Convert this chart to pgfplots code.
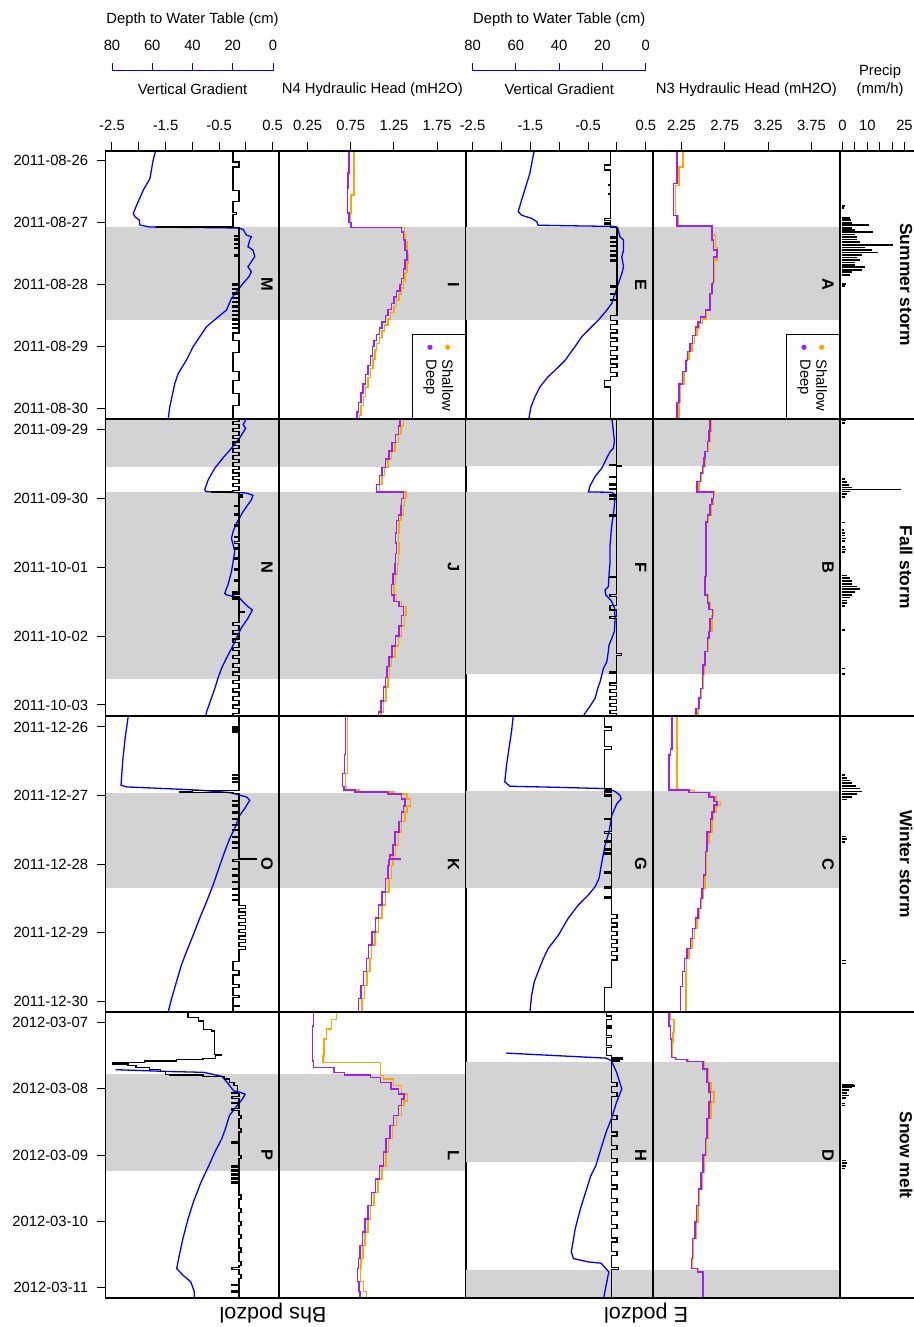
\documentclass[border=0pt]{standalone}
\usepackage{fontspec}
\setmainfont{Liberation Sans}
\usepackage{pgfplots}
\pgfplotsset{compat=1.18}
\definecolor{rpurple}{RGB}{160,32,240}
\definecolor{rorange}{RGB}{255,165,0}
\definecolor{rgray}{RGB}{211,211,211}
\newcommand\sz{\fontsize{7.4}{8.9}\selectfont}
\newcommand\band[2]{\addplot[fill=rgray, draw=none, forget plot] coordinates {(-100,#1) (100,#1) (100,#2) (-100,#2)} --cycle;}
\pgfplotsset{
  base/.style={scale only axis, anchor=north west, y dir=reverse, ymin=-0.16, ymax=4.16,
    axis on top, axis line style={line width=0.9pt}, xtick=\empty, ytick=\empty,
    major tick length=4.2pt, tick style={line width=0.5pt, black}, tick align=outside,
    font=\sz, clip=true},
  c1/.style={width=86.75pt, xmin=-2.62, xmax=0.62},
  c2/.style={width=93.25pt, xmin=-0.08, xmax=2.08},
  c3/.style={width=93.6pt, xmin=-2.62, xmax=0.62},
  c4/.style={width=93.65pt, xmin=1.92, xmax=4.08},
  c5/.style={width=40pt, xmin=-1, xmax=31.26},
  r1/.style={height=133.9pt}, r2/.style={height=148.7pt}, r3/.style={height=148pt}, r4/.style={height=143.15pt},
  toptick/.style={xtick pos=right, xticklabel pos=right, xticklabel style={font=\sz, yshift=2.5pt}},
  gradtick/.style={toptick, xtick={-2.5,-2,-1.5,-1,-0.5,0,0.5}, xticklabels={-2.5,,-1.5,,-0.5,,0.5}},
  datetick/.style={ytick={0,1,2,3,4}, ytick pos=left, yticklabel pos=left, yticklabel style={font=\sz, xshift=-1pt}},
  dep/.style={blue, line width=0.65pt},
  grd/.style={black, line width=0.6pt, const plot mark right},
  sha/.style={rorange, line width=0.75pt, const plot mark right},
  dee/.style={rpurple, line width=0.75pt, const plot mark right},
  pre/.style={black, xcomb, line width=0.85pt},
}
\begin{document}
\begin{tikzpicture}
%================ ROW 1 : Summer storm =================
\begin{axis}[base,c1,r1,at={(52.75pt,-75.4pt)},gradtick,datetick,
  yticklabels={2011-08-26,2011-08-27,2011-08-28,2011-08-29,2011-08-30}]
\band{1.074}{2.57}
\addplot[dep] table[row sep=\\, x expr={0.5-3*\thisrow{d}/80}, y=t] {t d\\
-0.16 58.3\\ -0.01 59.5\\ 0.285 61.1\\ 0.473 64.4\\ 0.715 67.7\\ 0.849 69.4\\ 0.903 68.6\\ 0.957 66.4\\ 1.038 66.1\\ 1.07 61.1\\ 1.078 36.3\\ 1.085 17.2\\ 1.108 14.7\\ 1.199 13.1\\ 1.226 10.6\\ 1.28 11.4\\ 1.387 12.3\\ 1.441 9.8\\ 1.548 8.9\\ 1.629 10.6\\ 1.71 12.3\\ 1.79 10.6\\ 1.871 11.8\\ 1.978 14.7\\ 2.113 18.0\\ 2.22 20.5\\ 2.409 23.0\\ 2.543 28.0\\ 2.677 32.9\\ 2.839 36.3\\ 3.0 39.6\\ 3.215 42.9\\ 3.43 47.0\\ 3.591 48.7\\ 3.968 51.2\\ 4.16 52.0\\};
\addplot[grd] table[row sep=\\, x=g, y=t] {t g\\
-0.16 -0.24\\ 0.02 -0.13\\ 0.10 -0.24\\ 0.48 -0.13\\ 0.66 -0.24\\ 0.84 -0.17\\ 0.87 -0.24\\ 1.068 -1.67\\ 1.078 -0.13\\ 1.20 -0.21\\ 1.22 -0.13\\ 1.26 -0.21\\ 1.28 -0.13\\ 1.33 -0.21\\ 1.35 -0.13\\ 1.40 -0.21\\ 1.42 -0.13\\ 1.52 -0.21\\ 1.54 -0.13\\ 1.99 -0.24\\ 2.01 -0.13\\ 2.06 -0.24\\ 2.08 -0.13\\ 2.13 -0.24\\ 2.15 -0.13\\ 2.20 -0.24\\ 2.22 -0.13\\ 2.27 -0.24\\ 2.29 -0.13\\ 2.34 -0.24\\ 2.36 -0.13\\ 2.41 -0.24\\ 2.43 -0.13\\ 2.48 -0.24\\ 2.50 -0.13\\ 2.55 -0.24\\ 2.57 -0.13\\ 2.62 -0.24\\ 2.64 -0.13\\ 2.69 -0.24\\ 2.71 -0.13\\ 2.78 -0.24\\ 2.90 -0.13\\ 3.10 -0.24\\ 3.40 -0.13\\ 3.55 -0.24\\ 3.75 -0.13\\ 3.95 -0.24\\ 4.16 -0.24\\};
\end{axis}
\begin{axis}[base,c2,r1,at={(139.5pt,-75.4pt)},toptick,xtick={0.25,0.75,1.25,1.75},xticklabels={0.25,0.75,1.25,1.75}]
\band{1.074}{2.57}
\addplot[sha] table[row sep=\\, x=h, y=t] {t h\\
-0.16 0.79\\ 0.55 0.75\\ 0.84 0.74\\ 1.00 0.76\\ 1.075 1.37\\ 1.20 1.38\\ 1.30 1.40\\ 1.50 1.41\\ 1.65 1.40\\ 1.80 1.38\\ 1.95 1.36\\ 2.05 1.34\\ 2.15 1.31\\ 2.25 1.28\\ 2.35 1.25\\ 2.45 1.21\\ 2.55 1.18\\ 2.65 1.14\\ 2.75 1.11\\ 2.85 1.08\\ 2.95 1.05\\ 3.05 1.03\\ 3.20 1.01\\ 3.35 0.98\\ 3.50 0.95\\ 3.65 0.92\\ 3.80 0.90\\ 3.95 0.87\\ 4.10 0.85\\ 4.16 0.85\\};
\addplot[dee] table[row sep=\\, x=h, y=t] {t h\\
-0.16 0.73\\ 0.20 0.72\\ 0.45 0.71\\ 0.84 0.73\\ 1.00 0.75\\ 1.075 1.34\\ 1.15 1.36\\ 1.28 1.38\\ 1.45 1.40\\ 1.60 1.38\\ 1.75 1.36\\ 1.90 1.34\\ 2.00 1.32\\ 2.10 1.28\\ 2.20 1.25\\ 2.30 1.22\\ 2.40 1.18\\ 2.50 1.15\\ 2.60 1.11\\ 2.70 1.08\\ 2.80 1.05\\ 2.90 1.02\\ 3.00 1.00\\ 3.15 0.98\\ 3.30 0.95\\ 3.45 0.92\\ 3.60 0.89\\ 3.75 0.87\\ 3.90 0.84\\ 4.05 0.82\\ 4.16 0.82\\};
\end{axis}
\begin{axis}[base,c3,r1,at={(232.75pt,-75.4pt)},gradtick]
\band{1.074}{2.57}
\addplot[dep] table[row sep=\\, x expr={0.5-3*\thisrow{d}/80}, y=t] {t d\\
-0.16 51.5\\ -0.01 52.4\\ 0.20 53.5\\ 0.37 55.0\\ 0.63 57.3\\ 0.82 58.9\\ 0.88 57.3\\ 0.93 52.7\\ 0.98 50.4\\ 1.04 49.7\\ 1.05 34.2\\ 1.06 14.2\\ 1.075 13.1\\ 1.23 11.9\\ 1.28 10.3\\ 1.44 10.3\\ 1.55 11.1\\ 1.71 10.3\\ 1.82 11.1\\ 1.98 12.7\\ 2.14 14.2\\ 2.30 15.7\\ 2.41 18.0\\ 2.57 21.9\\ 2.73 26.5\\ 2.84 29.6\\ 3.00 32.7\\ 3.22 37.3\\ 3.38 41.9\\ 3.48 45.0\\ 3.65 48.9\\ 3.81 51.2\\ 3.97 53.0\\ 4.16 54.0\\};
\addplot[grd] table[row sep=\\, x=g, y=t] {t g\\
-0.16 -0.11\\ 0.07 -0.21\\ 0.15 -0.11\\ 0.38 -0.15\\ 0.40 -0.11\\ 0.53 -0.15\\ 0.55 -0.11\\ 0.93 -0.21\\ 0.96 -0.11\\ 1.00 -0.21\\ 1.02 -0.11\\ 1.075 0.0\\ 1.23 -0.11\\ 1.25 0.0\\ 1.30 -0.11\\ 1.32 0.0\\ 1.37 -0.11\\ 1.39 0.0\\ 1.45 -0.11\\ 1.47 0.0\\ 1.52 -0.11\\ 1.54 0.0\\ 1.60 -0.11\\ 1.62 0.0\\ 2.02 -0.11\\ 2.04 0.0\\ 2.14 -0.11\\ 2.16 0.0\\ 2.24 -0.11\\ 2.26 0.0\\ 2.50 -0.11\\ 2.58 0.0\\ 2.64 -0.11\\ 2.72 0.0\\ 2.78 -0.11\\ 2.86 0.0\\ 2.92 -0.11\\ 3.00 0.0\\ 3.06 -0.11\\ 3.14 0.0\\ 3.20 -0.11\\ 3.28 0.0\\ 3.34 -0.11\\ 3.42 0.0\\ 3.48 -0.11\\ 3.55 -0.21\\ 3.65 -0.11\\ 4.16 -0.11\\};
\end{axis}
\begin{axis}[base,c4,r1,at={(326.35pt,-75.4pt)},toptick,xtick={2.25,2.75,3.25,3.75},xticklabels={2.25,2.75,3.25,3.75}]
\band{1.074}{2.57}
\addplot[sha] table[row sep=\\, x=h, y=t] {t h\\
-0.16 2.27\\ 0.10 2.22\\ 0.40 2.18\\ 0.88 2.21\\ 1.05 2.61\\ 1.20 2.64\\ 1.40 2.66\\ 1.60 2.63\\ 1.95 2.61\\ 2.15 2.58\\ 2.40 2.54\\ 2.55 2.49\\ 2.62 2.46\\ 2.70 2.43\\ 2.82 2.40\\ 2.95 2.37\\ 3.08 2.34\\ 3.20 2.31\\ 3.40 2.28\\ 3.60 2.24\\ 3.90 2.22\\ 4.16 2.21\\};
\addplot[dee] table[row sep=\\, x=h, y=t] {t h\\
-0.16 2.20\\ 0.37 2.16\\ 0.88 2.20\\ 1.05 2.60\\ 1.28 2.62\\ 1.44 2.66\\ 1.55 2.62\\ 1.98 2.60\\ 2.14 2.58\\ 2.41 2.53\\ 2.52 2.47\\ 2.60 2.44\\ 2.68 2.41\\ 2.82 2.38\\ 2.95 2.35\\ 3.08 2.32\\ 3.22 2.30\\ 3.40 2.26\\ 3.60 2.22\\ 3.90 2.20\\ 4.16 2.20\\};
\end{axis}
\begin{axis}[base,c5,r1,at={(420pt,-75.4pt)},toptick,xtick={0,5,10,15,20,25},xticklabels={0,,10,,,25}]
\addplot[pre] table[row sep=\\, x=p, y=t] {t p\\
0.73 1\\ 0.76 0.6\\ 0.92 3\\ 0.96 3.5\\ 1.00 4\\ 1.04 10.5\\ 1.08 4\\ 1.12 5\\ 1.15 12.5\\ 1.19 5\\ 1.23 6\\ 1.27 6\\ 1.31 7\\ 1.36 20.3\\ 1.40 9\\ 1.44 12\\ 1.48 14.5\\ 1.52 8\\ 1.56 6\\ 1.60 7\\ 1.64 5\\ 1.68 5\\ 1.72 9\\ 1.76 8\\ 1.80 4\\ 1.84 3\\ 1.99 1.5\\ 2.02 1\\};
\end{axis}
%================ ROW 2 : Fall storm =================
\begin{axis}[base,c1,r2,at={(52.75pt,-209.3pt)},datetick,
  yticklabels={2011-09-29,2011-09-30,2011-10-01,2011-10-02,2011-10-03}]
\band{-0.2}{0.55}\band{0.907}{3.62}
\addplot[dep] table[row sep=\\, x expr={0.5-3*\thisrow{d}/80}, y=t] {t d\\
-0.16 13.1\\ -0.07 14.7\\ -0.02 13.4\\ 0.12 16.4\\ 0.27 20.5\\ 0.41 24.7\\ 0.56 28.8\\ 0.73 32.1\\ 0.87 33.8\\ 0.90 33.3\\ 0.92 13.1\\ 0.955 9.8\\ 1.02 10.6\\ 1.19 14.7\\ 1.36 18.0\\ 1.48 19.7\\ 1.58 20.5\\ 1.67 19.7\\ 1.77 18.9\\ 1.92 19.7\\ 2.06 20.5\\ 2.25 22.2\\ 2.38 23.9\\ 2.40 23.0\\ 2.45 16.4\\ 2.55 13.1\\ 2.62 10.1\\ 2.74 12.3\\ 2.88 15.6\\ 3.03 18.0\\ 3.18 20.5\\ 3.32 23.0\\ 3.47 25.5\\ 3.61 27.2\\ 3.76 28.8\\ 3.90 30.5\\ 4.10 32.9\\ 4.16 33.3\\};
\addplot[grd] table[row sep=\\, x=g, y=t] {t g\\
-0.16 -0.13\\ -0.12 -0.24\\ -0.07 -0.13\\ -0.02 -0.24\\ 0.03 -0.13\\ 0.08 -0.24\\ 0.13 -0.13\\ 0.18 -0.24\\ 0.23 -0.13\\ 0.28 -0.24\\ 0.33 -0.13\\ 0.38 -0.24\\ 0.43 -0.13\\ 0.48 -0.24\\ 0.53 -0.13\\ 0.58 -0.24\\ 0.63 -0.13\\ 0.68 -0.24\\ 0.73 -0.13\\ 0.78 -0.24\\ 0.83 -0.13\\ 0.88 -0.24\\ 0.903 -0.64\\ 0.912 -0.13\\ 0.95 -0.06\\ 0.98 -0.13\\ 1.10 -0.21\\ 1.12 -0.13\\ 1.22 -0.21\\ 1.24 -0.13\\ 1.38 -0.21\\ 1.40 -0.13\\ 1.55 -0.21\\ 1.57 -0.13\\ 1.63 -0.21\\ 1.65 -0.13\\ 1.72 -0.21\\ 1.74 -0.13\\ 1.86 -0.21\\ 1.88 -0.13\\ 2.02 -0.21\\ 2.04 -0.13\\ 2.18 -0.21\\ 2.20 -0.13\\ 2.36 -0.24\\ 2.38 -0.13\\ 2.40 -0.24\\ 2.42 -0.13\\ 2.44 -0.24\\ 2.46 -0.13\\ 2.64 -0.02\\ 2.66 -0.13\\ 2.80 -0.24\\ 2.85 -0.13\\ 2.92 -0.24\\ 2.97 -0.13\\ 3.04 -0.24\\ 3.09 -0.13\\ 3.16 -0.24\\ 3.21 -0.13\\ 3.28 -0.24\\ 3.33 -0.13\\ 3.40 -0.24\\ 3.45 -0.13\\ 3.52 -0.24\\ 3.57 -0.13\\ 3.64 -0.24\\ 3.69 -0.13\\ 3.76 -0.24\\ 3.81 -0.13\\ 3.88 -0.24\\ 3.93 -0.13\\ 4.00 -0.24\\ 4.05 -0.13\\ 4.12 -0.24\\ 4.16 -0.24\\};
\end{axis}
\begin{axis}[base,c2,r2,at={(139.5pt,-209.3pt)}]
\band{-0.2}{0.55}\band{0.907}{3.62}
\addplot[sha] table[row sep=\\, x=h, y=t] {t h\\
-0.16 1.36\\ -0.05 1.33\\ 0.07 1.30\\ 0.19 1.26\\ 0.31 1.22\\ 0.43 1.18\\ 0.55 1.14\\ 0.67 1.11\\ 0.80 1.08\\ 0.907 1.39\\ 1.00 1.37\\ 1.10 1.36\\ 1.24 1.33\\ 1.32 1.31\\ 1.50 1.30\\ 1.65 1.31\\ 1.80 1.30\\ 1.95 1.29\\ 2.10 1.27\\ 2.25 1.25\\ 2.40 1.28\\ 2.50 1.34\\ 2.57 1.39\\ 2.70 1.37\\ 2.85 1.34\\ 3.00 1.30\\ 3.14 1.26\\ 3.30 1.22\\ 3.44 1.20\\ 3.60 1.18\\ 3.74 1.16\\ 3.94 1.13\\ 4.10 1.10\\ 4.16 1.10\\};
\addplot[dee] table[row sep=\\, x=h, y=t] {t h\\
-0.16 1.32\\ -0.05 1.30\\ 0.07 1.27\\ 0.19 1.23\\ 0.31 1.19\\ 0.43 1.15\\ 0.55 1.11\\ 0.67 1.08\\ 0.80 1.05\\ 0.907 1.36\\ 1.00 1.34\\ 1.10 1.33\\ 1.24 1.30\\ 1.32 1.28\\ 1.50 1.27\\ 1.65 1.28\\ 1.80 1.27\\ 1.95 1.26\\ 2.10 1.24\\ 2.25 1.22\\ 2.40 1.25\\ 2.50 1.31\\ 2.57 1.36\\ 2.70 1.34\\ 2.85 1.31\\ 3.00 1.27\\ 3.14 1.23\\ 3.30 1.19\\ 3.44 1.17\\ 3.60 1.15\\ 3.74 1.13\\ 3.94 1.10\\ 4.10 1.07\\ 4.16 1.07\\};
\end{axis}
\begin{axis}[base,c3,r2,at={(232.75pt,-209.3pt)}]
\band{-0.2}{0.53}\band{0.907}{3.55}
\addplot[dep] table[row sep=\\, x expr={0.5-3*\thisrow{d}/80}, y=t] {t d\\
-0.16 15.7\\ 0.02 15.0\\ 0.17 14.5\\ 0.27 15.0\\ 0.32 16.5\\ 0.41 18.0\\ 0.56 20.3\\ 0.68 23.4\\ 0.82 25.8\\ 0.905 26.5\\ 0.91 15.7\\ 0.945 14.2\\ 1.09 14.5\\ 1.24 15.0\\ 1.38 15.7\\ 1.48 16.0\\ 1.67 16.5\\ 1.92 16.5\\ 2.11 17.0\\ 2.28 17.3\\ 2.33 18.8\\ 2.40 18.5\\ 2.45 17.0\\ 2.50 15.7\\ 2.59 14.5\\ 2.74 14.2\\ 2.93 14.5\\ 3.03 15.7\\ 3.13 17.0\\ 3.22 17.3\\ 3.37 18.0\\ 3.47 19.6\\ 3.56 20.3\\ 3.66 21.1\\ 3.76 22.2\\ 3.90 23.4\\ 4.02 25.8\\ 4.12 28.1\\ 4.16 28.8\\};
\addplot[grd] table[row sep=\\, x=g, y=t] {t g\\
-0.16 -0.01\\ 0.51 -0.12\\ 0.525 0.08\\ 0.54 -0.01\\ 0.68 -0.12\\ 0.70 -0.01\\ 0.79 -0.12\\ 0.81 -0.01\\ 0.85 -0.12\\ 0.87 -0.01\\ 0.95 -0.12\\ 0.97 -0.01\\ 1.00 -0.12\\ 1.02 -0.01\\ 1.24 -0.12\\ 1.26 -0.01\\ 2.13 -0.12\\ 2.15 -0.01\\ 2.40 -0.12\\ 2.42 -0.01\\ 2.55 -0.12\\ 2.62 -0.01\\ 2.72 -0.12\\ 2.74 -0.01\\ 3.25 0.08\\ 3.28 -0.01\\ 3.52 -0.12\\ 3.54 -0.01\\ 3.68 -0.12\\ 3.72 -0.01\\ 3.78 -0.12\\ 3.82 -0.01\\ 3.88 -0.12\\ 3.92 -0.01\\ 3.98 -0.12\\ 4.02 -0.01\\ 4.08 -0.12\\ 4.12 -0.01\\ 4.16 -0.01\\};
\end{axis}
\begin{axis}[base,c4,r2,at={(326.35pt,-209.3pt)}]
\band{-0.2}{0.53}\band{0.907}{3.55}
\addplot[sha] table[row sep=\\, x=h, y=t] {t h\\
-0.16 2.59\\ 0.02 2.58\\ 0.17 2.56\\ 0.32 2.52\\ 0.41 2.52\\ 0.53 2.50\\ 0.63 2.48\\ 0.75 2.45\\ 0.907 2.63\\ 0.95 2.62\\ 1.09 2.59\\ 1.24 2.56\\ 1.34 2.54\\ 2.13 2.53\\ 2.40 2.56\\ 2.52 2.58\\ 2.61 2.62\\ 2.70 2.60\\ 2.93 2.57\\ 3.03 2.56\\ 3.22 2.53\\ 3.42 2.51\\ 3.56 2.50\\ 3.76 2.48\\ 3.90 2.46\\ 4.05 2.44\\ 4.16 2.42\\};
\addplot[dee] table[row sep=\\, x=h, y=t] {t h\\
-0.16 2.58\\ 0.02 2.57\\ 0.17 2.55\\ 0.32 2.52\\ 0.41 2.51\\ 0.53 2.49\\ 0.63 2.47\\ 0.75 2.43\\ 0.907 2.62\\ 1.00 2.60\\ 1.09 2.58\\ 1.24 2.55\\ 1.34 2.535\\ 2.13 2.52\\ 2.40 2.55\\ 2.52 2.57\\ 2.61 2.61\\ 2.74 2.58\\ 2.93 2.565\\ 3.03 2.55\\ 3.22 2.52\\ 3.42 2.50\\ 3.56 2.49\\ 3.76 2.47\\ 3.90 2.45\\ 4.05 2.42\\ 4.16 2.40\\};
\end{axis}
\begin{axis}[base,c5,r2,at={(420pt,-209.3pt)}]
\addplot[pre] table[row sep=\\, x=p, y=t] {t p\\
-0.14 1.5\\ -0.10 1\\ 0.72 1\\ 0.76 2\\ 0.80 2.5\\ 0.84 4\\ 0.87 23.5\\ 0.90 3\\ 0.94 2\\ 0.98 1\\ 1.35 1\\ 1.46 0.8\\ 1.50 1\\ 1.54 1\\ 1.58 1.5\\ 1.62 1\\ 1.70 1\\ 1.74 1.5\\ 1.78 1\\ 2.12 2\\ 2.16 3\\ 2.20 4\\ 2.24 4\\ 2.28 6\\ 2.32 7\\ 2.36 5\\ 2.40 4\\ 2.44 3\\ 2.48 2\\ 2.52 2\\ 2.56 1\\ 2.91 1\\ 3.47 1\\ 3.55 1\\};
\end{axis}
%================ ROW 3 : Winter storm =================
\begin{axis}[base,c1,r3,at={(52.75pt,-358pt)},datetick,
  yticklabels={2011-12-26,2011-12-27,2011-12-28,2011-12-29,2011-12-30}]
\band{0.957}{2.357}
\addplot[dep] table[row sep=\\, x expr={0.5-3*\thisrow{d}/80}, y=t] {t d\\
-0.16 71.9\\ 0.17 73.5\\ 0.51 74.7\\ 0.85 75.5\\ 0.875 72.7\\ 0.90 52.8\\ 0.923 36.3\\ 0.957 21.4\\ 1.02 13.1\\ 1.07 11.4\\ 1.19 13.9\\ 1.29 16.4\\ 1.48 18.9\\ 1.63 21.4\\ 1.82 23.9\\ 2.02 26.3\\ 2.31 29.7\\ 2.55 32.9\\ 2.79 36.3\\ 3.04 39.6\\ 3.28 42.9\\ 3.47 45.4\\ 3.72 47.9\\ 3.96 50.3\\ 4.16 52.0\\};
\addplot[grd] table[row sep=\\, x=g, y=t] {t g\\
-0.16 -0.13\\ 0.00 -0.24\\ 0.03 -0.13\\ 0.06 -0.24\\ 0.08 -0.13\\ 0.69 -0.24\\ 0.71 -0.13\\ 0.74 -0.24\\ 0.76 -0.13\\ 0.79 -0.24\\ 0.81 -0.13\\ 0.93 -1.0\\ 0.945 -1.23\\ 0.96 -0.24\\ 0.975 -0.13\\ 1.07 -0.24\\ 1.085 -0.13\\ 1.14 -0.24\\ 1.155 -0.13\\ 1.24 -0.24\\ 1.255 -0.13\\ 1.34 -0.24\\ 1.355 -0.13\\ 1.42 -0.24\\ 1.435 -0.13\\ 1.50 -0.24\\ 1.515 -0.13\\ 1.60 -0.24\\ 1.615 -0.13\\ 1.68 -0.24\\ 1.695 -0.13\\ 1.76 -0.24\\ 1.775 -0.13\\ 1.92 0.2\\ 1.93 -0.24\\ 1.96 -0.13\\ 2.07 -0.24\\ 2.085 -0.13\\ 2.16 -0.24\\ 2.175 -0.13\\ 2.26 -0.24\\ 2.275 -0.13\\ 2.36 -0.24\\ 2.375 -0.13\\ 2.44 -0.24\\ 2.455 -0.13\\ 2.52 -0.24\\ 2.535 -0.13\\ 2.60 0.0\\ 2.65 -0.13\\ 2.70 0.0\\ 2.75 -0.13\\ 2.80 0.0\\ 2.85 -0.13\\ 2.90 0.0\\ 2.95 -0.13\\ 3.00 0.0\\ 3.05 -0.13\\ 3.10 0.0\\ 3.15 -0.13\\ 3.20 0.0\\ 3.25 -0.13\\ 3.42 -0.24\\ 3.55 -0.13\\ 3.62 -0.24\\ 3.76 -0.13\\ 3.80 -0.24\\ 3.92 -0.13\\ 3.95 -0.24\\ 4.06 -0.13\\ 4.08 -0.24\\ 4.16 -0.24\\};
\end{axis}
\begin{axis}[base,c2,r3,at={(139.5pt,-358pt)}]
\band{0.957}{2.357}
\addplot[sha] table[row sep=\\, x=h, y=t] {t h\\
-0.16 0.71\\ 0.68 0.69\\ 0.87 0.70\\ 0.92 0.85\\ 0.95 1.25\\ 0.98 1.40\\ 1.05 1.44\\ 1.15 1.40\\ 1.24 1.38\\ 1.38 1.34\\ 1.53 1.30\\ 1.72 1.27\\ 1.87 1.24\\ 2.02 1.22\\ 2.21 1.19\\ 2.41 1.15\\ 2.60 1.11\\ 2.79 1.07\\ 2.99 1.03\\ 3.18 0.99\\ 3.38 0.97\\ 3.57 0.94\\ 3.77 0.91\\ 3.96 0.88\\ 4.16 0.86\\};
\addplot[dee] table[row sep=\\, x=h, y=t] {t h\\
-0.16 0.69\\ 0.40 0.68\\ 0.68 0.656\\ 0.87 0.67\\ 0.92 0.80\\ 0.95 1.18\\ 0.98 1.34\\ 1.05 1.38\\ 1.15 1.36\\ 1.24 1.34\\ 1.38 1.31\\ 1.53 1.265\\ 1.72 1.24\\ 1.87 1.207\\ 1.93 1.32\\ 1.935 1.19\\ 2.02 1.18\\ 2.21 1.15\\ 2.41 1.11\\ 2.60 1.073\\ 2.79 1.034\\ 2.99 0.996\\ 3.18 0.957\\ 3.38 0.93\\ 3.57 0.90\\ 3.77 0.869\\ 3.96 0.842\\ 4.16 0.823\\};
\end{axis}
\begin{axis}[base,c3,r3,at={(232.75pt,-358pt)}]
\band{0.94}{2.357}
\addplot[dep] table[row sep=\\, x expr={0.5-3*\thisrow{d}/80}, y=t] {t d\\
-0.16 61.2\\ 0.07 62.0\\ 0.32 63.2\\ 0.56 64.3\\ 0.80 65.1\\ 0.865 62.8\\ 0.88 41.9\\ 0.90 18.0\\ 0.94 14.2\\ 1.00 11.9\\ 1.05 11.4\\ 1.12 13.4\\ 1.29 15.7\\ 1.53 17.0\\ 1.72 18.8\\ 1.97 20.3\\ 2.21 21.6\\ 2.33 23.4\\ 2.45 26.5\\ 2.60 31.2\\ 2.79 35.8\\ 3.04 40.4\\ 3.23 45.0\\ 3.38 47.3\\ 3.57 49.7\\ 3.72 51.5\\ 3.91 52.7\\ 4.16 53.5\\};
\addplot[grd] table[row sep=\\, x=g, y=t] {t g\\
-0.16 -0.21\\ 0.00 -0.10\\ 0.05 -0.21\\ 0.29 -0.10\\ 0.33 -0.21\\ 0.90 -0.10\\ 0.92 -0.21\\ 0.94 -0.10\\ 0.96 -0.21\\ 0.98 -0.10\\ 1.00 -0.21\\ 1.02 -0.10\\ 1.33 -0.21\\ 1.35 -0.10\\ 1.53 -0.21\\ 1.55 -0.10\\ 1.66 -0.21\\ 1.68 -0.10\\ 1.78 -0.21\\ 1.80 -0.10\\ 1.84 -0.21\\ 1.86 -0.10\\ 2.11 -0.21\\ 2.13 -0.10\\ 2.33 -0.21\\ 2.35 -0.10\\ 2.48 -0.21\\ 2.50 -0.10\\ 2.74 0.0\\ 2.80 -0.10\\ 2.86 0.0\\ 2.92 -0.10\\ 2.98 0.0\\ 3.04 -0.10\\ 3.10 0.0\\ 3.16 -0.10\\ 3.22 0.0\\ 3.28 -0.10\\ 3.34 0.0\\ 3.40 -0.10\\ 3.80 -0.21\\ 4.16 -0.21\\};
\end{axis}
\begin{axis}[base,c4,r3,at={(326.35pt,-358pt)}]
\band{0.94}{2.357}
\addplot[sha] table[row sep=\\, x=h, y=t] {t h\\
-0.16 2.20\\ 0.90 2.21\\ 0.93 2.40\\ 0.957 2.58\\ 1.02 2.65\\ 1.09 2.70\\ 1.14 2.65\\ 1.24 2.62\\ 1.34 2.60\\ 1.53 2.57\\ 1.70 2.55\\ 1.82 2.54\\ 2.16 2.52\\ 2.36 2.50\\ 2.50 2.48\\ 2.65 2.46\\ 2.79 2.43\\ 2.94 2.40\\ 3.09 2.37\\ 3.23 2.34\\ 3.38 2.31\\ 3.57 2.30\\ 3.79 2.30\\ 4.16 2.296\\};
\addplot[dee] table[row sep=\\, x=h, y=t] {t h\\
-0.16 2.142\\ 0.32 2.123\\ 0.41 2.104\\ 0.92 2.335\\ 0.957 2.565\\ 1.02 2.623\\ 1.09 2.662\\ 1.14 2.623\\ 1.24 2.604\\ 1.34 2.584\\ 1.53 2.546\\ 1.82 2.527\\ 2.16 2.507\\ 2.36 2.489\\ 2.50 2.469\\ 2.65 2.443\\ 2.79 2.411\\ 2.94 2.38\\ 3.09 2.354\\ 3.23 2.316\\ 3.38 2.288\\ 3.57 2.265\\ 3.79 2.238\\ 4.16 2.227\\};
\end{axis}
\begin{axis}[base,c5,r3,at={(420pt,-358pt)}]
\addplot[pre] table[row sep=\\, x=p, y=t] {t p\\
0.70 1\\ 0.74 2\\ 0.78 3\\ 0.82 4\\ 0.86 5.5\\ 0.90 7\\ 0.94 8\\ 0.98 6\\ 1.02 4\\ 1.06 2\\ 1.60 1.5\\ 1.64 2\\ 1.68 1\\ 3.41 1.5\\ 3.45 1.5\\};
\end{axis}
%================ ROW 4 : Snow melt =================
\begin{axis}[base,c1,r4,at={(52.75pt,-506pt)},datetick,
  yticklabels={2012-03-07,2012-03-08,2012-03-09,2012-03-10,2012-03-11}]
\band{0.777}{2.24}
\addplot[dep] table[row sep=\\, x expr={0.5-3*\thisrow{d}/80}, y=t] {t d\\
0.71 78.2\\ 0.737 52.4\\ 0.75 34.4\\ 0.81 25.3\\ 0.90 22.7\\ 1.03 19.4\\ 1.05 16.3\\ 1.08 13.7\\ 1.15 15.0\\ 1.25 17.6\\ 1.40 21.5\\ 1.60 23.5\\ 1.75 25.3\\ 1.95 28.7\\ 2.16 31.8\\ 2.41 35.7\\ 2.71 39.5\\ 2.96 42.1\\ 3.26 44.7\\ 3.56 46.8\\ 3.71 47.8\\ 3.81 44.7\\ 3.91 40.8\\ 4.06 39.0\\ 4.16 39.0\\};
\addplot[grd] table[row sep=\\, x=g, y=t] {t g\\
-0.16 -1.08\\ -0.075 -0.88\\ -0.025 -0.79\\ 0.10 -0.64\\ 0.125 -0.58\\ 0.476 -0.45\\ 0.50 -0.56\\ 0.54 -0.80\\ 0.56 -1.30\\ 0.58 -1.90\\ 0.60 -2.40\\ 0.61 -2.48\\ 0.625 -2.20\\ 0.65 -2.05\\ 0.68 -1.80\\ 0.71 -1.60\\ 0.74 -1.50\\ 0.777 -1.42\\ 0.79 -0.80\\ 0.81 -0.40\\ 0.85 -0.31\\ 0.90 -0.22\\ 0.95 -0.16\\ 1.05 -0.26\\ 1.07 -0.13\\ 1.12 -0.26\\ 1.14 -0.13\\ 1.20 -0.26\\ 1.22 -0.13\\ 1.30 -0.26\\ 1.32 -0.13\\ 1.40 -0.09\\ 1.45 -0.13\\ 1.60 -0.09\\ 1.65 -0.13\\ 1.80 -0.26\\ 1.82 -0.13\\ 2.00 -0.09\\ 2.05 -0.13\\ 2.16 -0.26\\ 2.18 -0.13\\ 2.22 -0.26\\ 2.24 -0.13\\ 2.28 -0.26\\ 2.30 -0.13\\ 2.34 -0.26\\ 2.36 -0.13\\ 2.40 -0.26\\ 2.42 -0.13\\ 2.60 -0.09\\ 2.66 -0.13\\ 2.80 -0.09\\ 2.86 -0.13\\ 3.00 -0.09\\ 3.06 -0.13\\ 3.20 -0.09\\ 3.26 -0.13\\ 3.40 -0.09\\ 3.46 -0.13\\ 3.60 -0.09\\ 3.66 -0.13\\ 3.70 -0.26\\ 3.73 -0.13\\ 3.80 -0.09\\ 3.86 -0.13\\ 3.95 -0.26\\ 3.97 -0.13\\ 4.05 -0.26\\ 4.07 -0.13\\ 4.16 -0.13\\};
\end{axis}
\begin{axis}[base,c2,r4,at={(139.5pt,-506pt)}]
\band{0.777}{2.24}
\addplot[sha] table[row sep=\\, x=h, y=t] {t h\\
-0.16 0.587\\ -0.05 0.527\\ 0.10 0.468\\ 0.25 0.438\\ 0.50 0.43\\ 0.60 1.097\\ 0.80 1.127\\ 0.85 1.247\\ 0.95 1.335\\ 1.08 1.408\\ 1.18 1.365\\ 1.25 1.335\\ 1.40 1.277\\ 1.55 1.234\\ 1.75 1.187\\ 1.95 1.157\\ 2.16 1.114\\ 2.36 1.067\\ 2.56 1.018\\ 2.76 0.977\\ 2.96 0.947\\ 3.16 0.917\\ 3.36 0.89\\ 3.56 0.87\\ 3.71 0.86\\ 3.91 0.90\\ 4.06 0.93\\ 4.16 0.947\\};
\addplot[dee] table[row sep=\\, x=h, y=t] {t h\\
-0.16 0.318\\ 0.05 0.305\\ 0.576 0.32\\ 0.677 0.557\\ 0.75 0.677\\ 0.79 0.977\\ 0.827 1.097\\ 0.90 1.217\\ 1.0 1.305\\ 1.08 1.365\\ 1.15 1.335\\ 1.25 1.305\\ 1.40 1.247\\ 1.55 1.204\\ 1.75 1.157\\ 1.95 1.127\\ 2.16 1.084\\ 2.36 1.037\\ 2.56 0.988\\ 2.76 0.947\\ 2.96 0.917\\ 3.16 0.887\\ 3.36 0.857\\ 3.56 0.838\\ 3.71 0.827\\ 3.91 0.845\\ 4.06 0.857\\ 4.16 0.86\\};
\end{axis}
\begin{axis}[base,c3,r4,at={(232.75pt,-506pt)}]
\band{0.59}{2.105}\band{3.73}{4.3}
\addplot[dep] table[row sep=\\, x expr={0.5-3*\thisrow{d}/80}, y=t] {t d\\
0.46 64.4\\ 0.536 18.3\\ 0.576 15.9\\ 0.75 13.5\\ 1.0 11.1\\ 1.2 13.5\\ 1.45 15.9\\ 1.65 18.3\\ 1.90 20.7\\ 2.16 23.1\\ 2.31 25.4\\ 2.56 27.8\\ 2.81 30.2\\ 3.11 32.6\\ 3.46 34.4\\ 3.56 33.4\\ 3.61 26.7\\ 3.63 20.7\\ 3.76 17.1\\ 3.96 18.3\\ 4.16 19.5\\};
\addplot[grd] table[row sep=\\, x=g, y=t] {t g\\
-0.16 -0.185\\ -0.10 -0.095\\ -0.05 -0.185\\ 0.05 -0.095\\ 0.08 -0.185\\ 0.20 -0.095\\ 0.23 -0.185\\ 0.35 -0.095\\ 0.38 -0.185\\ 0.50 -0.095\\ 0.53 0.09\\ 0.55 -0.095\\ 0.57 0.05\\ 0.59 -0.095\\ 0.90 0.0\\ 0.96 -0.095\\ 1.05 0.0\\ 1.11 -0.095\\ 1.40 0.0\\ 1.46 -0.095\\ 1.65 0.0\\ 1.71 -0.095\\ 1.85 0.0\\ 1.91 -0.095\\ 2.05 0.0\\ 2.11 -0.095\\ 2.25 0.0\\ 2.31 -0.095\\ 2.45 0.0\\ 2.51 -0.095\\ 2.65 0.0\\ 2.71 -0.095\\ 2.85 0.0\\ 2.91 -0.095\\ 3.05 0.0\\ 3.11 -0.095\\ 3.25 0.0\\ 3.31 -0.095\\ 3.45 0.0\\ 3.51 -0.095\\ 3.69 0.03\\ 3.73 -0.095\\ 4.16 -0.095\\};
\end{axis}
\begin{axis}[base,c4,r4,at={(326.35pt,-506pt)}]
\band{0.59}{2.105}\band{3.73}{4.3}
\addplot[sha] table[row sep=\\, x=h, y=t] {t h\\
-0.16 2.124\\ -0.05 2.166\\ 0.15 2.15\\ 0.30 2.14\\ 0.526 2.19\\ 0.56 2.33\\ 0.59 2.51\\ 0.70 2.56\\ 0.90 2.59\\ 1.05 2.627\\ 1.20 2.59\\ 1.45 2.56\\ 1.75 2.54\\ 2.00 2.51\\ 2.26 2.49\\ 2.51 2.46\\ 2.76 2.44\\ 3.01 2.42\\ 3.26 2.39\\ 3.56 2.375\\ 3.71 2.44\\ 3.76 2.50\\ 4.16 2.50\\};
\addplot[dee] table[row sep=\\, x=h, y=t] {t h\\
-0.16 2.106\\ 0.05 2.124\\ 0.25 2.136\\ 0.526 2.184\\ 0.56 2.316\\ 0.59 2.496\\ 0.70 2.543\\ 0.90 2.567\\ 1.05 2.586\\ 1.20 2.567\\ 1.45 2.543\\ 1.75 2.526\\ 2.00 2.496\\ 2.26 2.477\\ 2.51 2.447\\ 2.76 2.423\\ 3.01 2.405\\ 3.26 2.376\\ 3.56 2.364\\ 3.71 2.436\\ 3.76 2.496\\ 4.16 2.49\\};
\end{axis}
\begin{axis}[base,c5,r4,at={(420pt,-506pt)}]
\addplot[pre] table[row sep=\\, x=p, y=t] {t p\\
0.94 4.5\\ 0.96 5\\ 0.98 4\\ 1.02 2.5\\ 1.06 2\\ 1.10 2.5\\ 1.14 1.5\\ 1.22 1\\ 1.25 1\\ 2.08 1.5\\ 2.12 2\\ 2.16 1.5\\ 2.20 1\\};
\end{axis}
%================ annotations =================
\foreach \xa/\xb/\xc in {56/136.5/96.25, 236.35/322.85/279.6}{
  \draw[blue, line width=0.5pt] (\xa pt,-35.35pt) -- (\xb pt,-35.35pt);
  \node[font=\sz] at (\xc pt,-9.65pt) {Depth to Water Table (cm)};
  \node[font=\sz] at (\xc pt,-44.65pt) {Vertical Gradient};
}
\foreach \d [count=\i from 0] in {80,60,40,20,0}{
  \draw[blue, line width=0.5pt] ({56pt+\i*20.125pt},-35.35pt) -- ++(0,4pt);
  \node[font=\sz] at ({56pt+\i*20.125pt},-22.85pt) {\d};
  \draw[blue, line width=0.5pt] ({236.35pt+\i*21.625pt},-35.35pt) -- ++(0,4pt);
  \node[font=\sz] at ({236.35pt+\i*21.625pt},-22.85pt) {\d};
}
\node[font=\sz] at (186.15pt,-44.65pt) {N4 Hydraulic Head (mH2O)};
\node[font=\sz] at (373.15pt,-44.65pt) {N3 Hydraulic Head (mH2O)};
\node[font=\sz] at (440pt,-35.85pt) {Precip};
\node[font=\sz] at (440pt,-44.65pt) {(mm/h)};
% legends
\foreach \bx in {206.35, 393.35}{
  \draw[line width=0.5pt, fill=white] (\bx pt,-167pt) rectangle ++(26.4pt,-42.3pt);
  \fill[rorange] ({\bx pt+17.5pt},-173.65pt) circle (1.3pt);
  \fill[rpurple] ({\bx pt+8.65pt},-173.65pt) circle (1.3pt);
  \node[font=\sz, rotate=-90, anchor=west, inner sep=0pt] at ({\bx pt+17.5pt},-179.5pt) {Shallow};
  \node[font=\sz, rotate=-90, anchor=west, inner sep=0pt] at ({\bx pt+8.65pt},-179.5pt) {Deep};
}
% panel letters
\foreach \ya/\la/\lb/\lc/\ld in {-142.35/M/I/E/A, -283.65/N/J/F/B, -432/O/K/G/C, -577.6/P/L/H/D}{
  \node[font=\bfseries\fontsize{8.2}{9}\selectfont, rotate=-90] at (133.5pt,\ya pt) {\la};
  \node[font=\bfseries\fontsize{8.2}{9}\selectfont, rotate=-90] at (226.75pt,\ya pt) {\lb};
  \node[font=\bfseries\fontsize{8.2}{9}\selectfont, rotate=-90] at (320.35pt,\ya pt) {\lc};
  \node[font=\bfseries\fontsize{8.2}{9}\selectfont, rotate=-90] at (414pt,\ya pt) {\ld};
}
\node[font=\bfseries\fontsize{8.7}{10}\selectfont, rotate=-90] at (453pt,-142.35pt) {Summer storm};
\node[font=\bfseries\fontsize{8.7}{10}\selectfont, rotate=-90] at (453pt,-283.65pt) {Fall storm};
\node[font=\bfseries\fontsize{8.7}{10}\selectfont, rotate=-90] at (453pt,-432pt) {Winter storm};
\node[font=\bfseries\fontsize{8.7}{10}\selectfont, rotate=-90] at (453pt,-577.6pt) {Snow melt};
\node[font=\fontsize{10.8}{12}\selectfont, rotate=180] at (136.5pt,-656.5pt) {Bhs podzol};
\node[font=\fontsize{10.8}{12}\selectfont, rotate=180] at (323pt,-656.5pt) {E podzol};
\pgfresetboundingbox
\path[use as bounding box] (0,0) rectangle (457pt,-663.5pt);
\end{tikzpicture}
\end{document}
